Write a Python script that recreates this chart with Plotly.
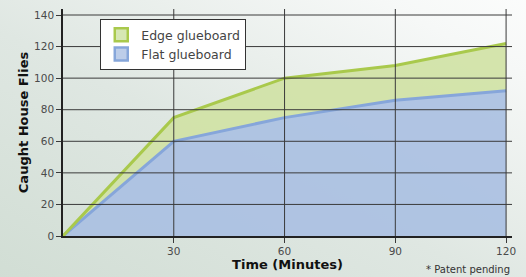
import plotly.graph_objects as go

minutes = [0, 30, 60, 90, 120]
edge_glueboard = [0, 75, 100, 108, 122]
flat_glueboard = [0, 60, 75, 86, 92]
x_ticks = [30, 60, 90, 120]
y_ticks = [0, 20, 40, 60, 80, 100, 120, 140]

bg_svg = (
    "data:image/svg+xml;utf8,"
    "<svg xmlns='http://www.w3.org/2000/svg' width='526' height='277'>"
    "<defs><linearGradient id='g' x1='0' y1='1' x2='1' y2='0'>"
    "<stop offset='0' stop-color='%23cfdcd2'/>"
    "<stop offset='0.45' stop-color='%23dfe7e2'/>"
    "<stop offset='0.8' stop-color='%23f6f8f7'/>"
    "<stop offset='1' stop-color='%23ffffff'/>"
    "</linearGradient></defs>"
    "<rect width='526' height='277' fill='url(%23g)'/></svg>"
)

GREEN_LINE, GREEN_FILL = "#a9c94c", "rgba(208,226,165,0.92)"
BLUE_LINE, BLUE_FILL = "#86a6da", "rgba(170,192,226,0.92)"

fig = go.Figure()
fig.add_trace(go.Scatter(
    x=minutes, y=flat_glueboard, name="Flat glueboard", mode="lines",
    line=dict(color=BLUE_LINE, width=3), fill="tozeroy",
    fillcolor=BLUE_FILL, showlegend=False, hoverinfo="skip"))
fig.add_trace(go.Scatter(
    x=minutes, y=edge_glueboard, name="Edge glueboard", mode="lines",
    line=dict(color=GREEN_LINE, width=3), fill="tonexty",
    fillcolor=GREEN_FILL, showlegend=False, hoverinfo="skip"))
# legend swatches
fig.add_trace(go.Scatter(
    x=[None], y=[None], name="Edge glueboard", mode="markers",
    marker=dict(symbol="square", size=13, color="#d6e7b4",
                line=dict(color=GREEN_LINE, width=2.5))))
fig.add_trace(go.Scatter(
    x=[None], y=[None], name="Flat glueboard", mode="markers",
    marker=dict(symbol="square", size=13, color="#bccde9",
                line=dict(color=BLUE_LINE, width=2.5))))

fig.add_layout_image(dict(source=bg_svg, xref="paper", yref="paper",
                          x=-0.2, y=1.1, sizex=1.4, sizey=1.4,
                          xanchor="left", yanchor="top",
                          sizing="stretch", layer="below"))

shapes = []
for v in y_ticks[1:]:
    shapes.append(dict(type="line", xref="paper", yref="y", x0=0, x1=1,
                       y0=v, y1=v, layer="above",
                       line=dict(color="#3a3a3a", width=1)))
for v in x_ticks:
    shapes.append(dict(type="line", xref="x", yref="paper", x0=v, x1=v,
                       y0=0, y1=1, layer="above",
                       line=dict(color="#3a3a3a", width=1)))

axis_font = dict(family="DejaVu Sans", size=10.5, color="#4a4a4a")
title_font = dict(family="DejaVu Sans", size=13, color="#111111")
fig.update_layout(
    width=526, height=277,
    margin=dict(l=63, r=14, t=9, b=41),
    paper_bgcolor="#dfe7e2", plot_bgcolor="rgba(0,0,0,0)",
    showlegend=True, shapes=shapes, hovermode=False,
    legend=dict(x=0.083, y=0.955, xanchor="left", yanchor="top",
                bgcolor="white", bordercolor="#333333", borderwidth=1,
                traceorder="normal", itemwidth=30, tracegroupgap=0,
                font=dict(family="DejaVu Sans", size=12.5, color="#444444")),
    xaxis=dict(range=[0, 121.6], tickvals=x_ticks, showgrid=False,
               ticks="outside", ticklen=5,
               tickcolor="#3a3a3a", showline=True, linecolor="#222222",
               linewidth=1.5, tickfont=axis_font, zeroline=False,
               layer="above traces",
               title=dict(text="<b>Time (Minutes)</b>", standoff=0,
                          font=title_font)),
    yaxis=dict(range=[0, 143.8], tickvals=y_ticks, showgrid=False,
               ticks="outside", ticklen=5,
               tickcolor="#3a3a3a", showline=True, linecolor="#222222",
               linewidth=1.5, tickfont=axis_font, zeroline=False,
               layer="above traces",
               title=dict(text="<b>Caught House Flies</b>", standoff=3,
                          font=title_font)),
    annotations=[dict(text="* Patent pending", xref="paper", yref="paper",
                      x=1.0, y=-0.148, xanchor="right", yanchor="middle",
                      showarrow=False,
                      font=dict(family="DejaVu Sans", size=10, color="#333333"))],
)

fig.write_html("out.html", config={"displayModeBar": False},
               post_script="document.body.style.margin='0px';")
